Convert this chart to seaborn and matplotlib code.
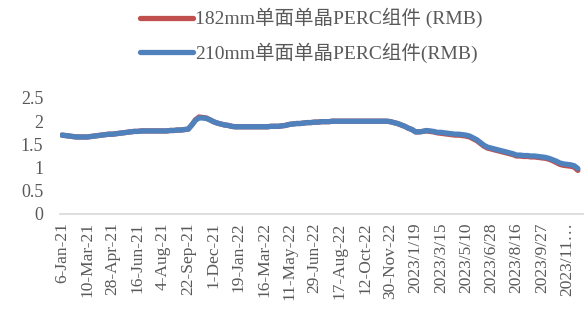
import matplotlib
matplotlib.use("Agg")
import matplotlib.pyplot as plt
from matplotlib.lines import Line2D
import seaborn as sns
import pandas as pd

series_names = ["182mm单面单晶PERC组件 (RMB)", "210mm单面单晶PERC组件(RMB)"]

tick_labels = ["6-Jan-21", "10-Mar-21", "28-Apr-21", "16-Jun-21", "4-Aug-21",
               "22-Sep-21", "1-Dec-21", "19-Jan-22", "16-Mar-22", "11-May-22",
               "29-Jun-22", "17-Aug-22", "12-Oct-22", "30-Nov-22", "2023/1/19",
               "2023/3/15", "2023/5/10", "2023/6/28", "2023/8/16", "2023/9/27",
               "2023/11…"]

blue_210 = [
    1.70, 1.69, 1.68, 1.67, 1.66, 1.66, 1.66, 1.66, 1.67, 1.68,
    1.69, 1.70, 1.71, 1.72, 1.72, 1.73, 1.74, 1.75, 1.76, 1.77,
    1.78, 1.78, 1.79, 1.79, 1.79, 1.79, 1.79, 1.79, 1.79, 1.79,
    1.80, 1.80, 1.81, 1.81, 1.82, 1.83, 1.92, 2.02, 2.07, 2.07,
    2.06, 2.03, 1.99, 1.96, 1.94, 1.92, 1.91, 1.89, 1.88, 1.88,
    1.88, 1.88, 1.88, 1.88, 1.88, 1.88, 1.88, 1.88, 1.89, 1.89,
    1.89, 1.90, 1.91, 1.93, 1.94, 1.95, 1.95, 1.96, 1.97, 1.97,
    1.98, 1.98, 1.99, 1.99, 1.99, 2.00, 2.00, 2.00, 2.00, 2.00,
    2.00, 2.00, 2.00, 2.00, 2.00, 2.00, 2.00, 2.00, 2.00, 2.00,
    2.00, 1.99, 1.97, 1.95, 1.92, 1.89, 1.85, 1.82, 1.77, 1.77,
    1.78, 1.80, 1.79, 1.78, 1.76, 1.76, 1.75, 1.74, 1.73, 1.72,
    1.72, 1.71, 1.70, 1.68, 1.64, 1.60, 1.54, 1.48, 1.44, 1.42,
    1.40, 1.38, 1.36, 1.34, 1.32, 1.30, 1.27, 1.27, 1.26, 1.26,
    1.25, 1.25, 1.24, 1.23, 1.22, 1.20, 1.17, 1.14, 1.10, 1.08,
    1.07, 1.06, 1.04, 0.98,
]

red_182 = [
    1.70, 1.69, 1.68, 1.67, 1.66, 1.66, 1.66, 1.66, 1.67, 1.68,
    1.69, 1.70, 1.71, 1.72, 1.72, 1.73, 1.74, 1.75, 1.76, 1.77,
    1.78, 1.78, 1.79, 1.79, 1.79, 1.79, 1.79, 1.79, 1.79, 1.79,
    1.80, 1.80, 1.81, 1.81, 1.82, 1.83, 1.92, 2.03, 2.09, 2.08,
    2.07, 2.03, 1.99, 1.96, 1.94, 1.92, 1.91, 1.89, 1.88, 1.88,
    1.88, 1.88, 1.88, 1.88, 1.88, 1.88, 1.88, 1.88, 1.89, 1.89,
    1.89, 1.90, 1.91, 1.93, 1.94, 1.95, 1.95, 1.96, 1.97, 1.97,
    1.98, 1.98, 1.99, 1.99, 1.99, 2.00, 2.00, 2.00, 2.00, 2.00,
    2.00, 2.00, 2.00, 2.00, 2.00, 2.00, 2.00, 2.00, 2.00, 2.00,
    2.00, 1.99, 1.97, 1.95, 1.92, 1.89, 1.85, 1.82, 1.77, 1.77,
    1.78, 1.79, 1.78, 1.77, 1.75, 1.74, 1.73, 1.72, 1.71, 1.70,
    1.70, 1.69, 1.68, 1.66, 1.62, 1.58, 1.52, 1.46, 1.42, 1.40,
    1.38, 1.36, 1.34, 1.32, 1.30, 1.28, 1.25, 1.25, 1.24, 1.24,
    1.23, 1.23, 1.22, 1.21, 1.20, 1.18, 1.15, 1.11, 1.07, 1.05,
    1.04, 1.03, 1.01, 0.94,
]

y_ticks = [0, 0.5, 1, 1.5, 2, 2.5]
colors = ["#C0504D", "#4F81BD"]

sns.set_theme(style="white")
plt.rcParams['font.family'] = ['Liberation Serif', 'Noto Sans CJK SC', 'DejaVu Sans']

df = pd.DataFrame({
    "idx": list(range(len(red_182))) + list(range(len(blue_210))),
    "value": red_182 + blue_210,
    "series": [series_names[0]] * len(red_182) + [series_names[1]] * len(blue_210),
})

fig = plt.figure(figsize=(5.84, 3.23), dpi=100)
ax = fig.add_axes([60 / 584, (323 - 214) / 323, (584 - 60) / 584, (214 - 98) / 323])

palette = dict(zip(series_names, colors))
sns.lineplot(data=df, x="idx", y="value", hue="series", palette=palette,
             linewidth=3.8, ax=ax, legend=False, sort=False)

ax.set_xlim(-0.55, 144.7)
ax.set_ylim(0, 2.5)
ax.set_yticks(y_ticks)
ax.set_yticklabels([f"{v:g}" for v in y_ticks])
ax.set_xticks(list(range(0, 7 * len(tick_labels), 7)))
ax.set_xticklabels(tick_labels, rotation=90)
ax.set_xlabel("")
ax.set_ylabel("")
for s in ["top", "right", "left"]:
    ax.spines[s].set_visible(False)
ax.spines["bottom"].set_color("#D9D9D9")
ax.spines["bottom"].set_linewidth(1.2)
ax.tick_params(axis="both", length=0, colors="#595959")
ax.tick_params(axis="x", pad=6, labelsize=12.5)
ax.tick_params(axis="y", pad=12, labelsize=13)

handles = [Line2D([0], [0], color=c, lw=3.8) for c in colors]
fig.legend(handles, series_names, loc="upper left", bbox_to_anchor=(140 / 584, 0.975),
           frameon=False, handlelength=2.7, handletextpad=0.12, borderpad=0,
           borderaxespad=0, labelspacing=0.72, fontsize=14, labelcolor="#595959")

fig.savefig("out.png", dpi=100)
